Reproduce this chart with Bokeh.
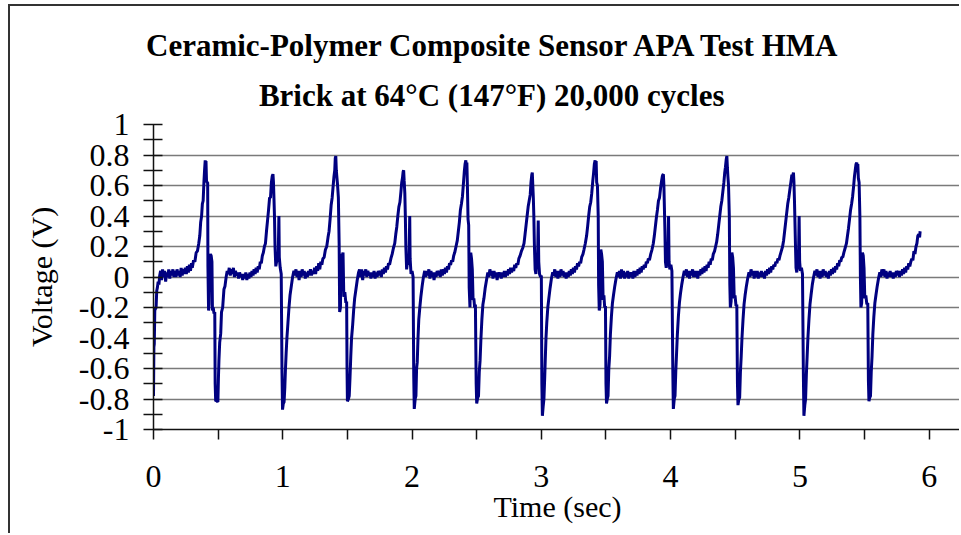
from bokeh.plotting import figure
from bokeh.models import (FixedTicker, CustomJSTickFormatter, Title, Range1d)
from bokeh.embed import file_html
from bokeh.resources import INLINE

# ---------------- data ----------------
title_line1 = "Ceramic-Polymer Composite Sensor APA Test HMA"
title_line2 = "Brick at 64\u00b0C (147\u00b0F) 20,000 cycles"
x_label = "Time (sec)"
y_label = "Voltage (V)"

x_ticks = [0, 1, 2, 3, 4, 5, 6]
x_minor_ticks = [0.5, 1.5, 2.5, 3.5, 4.5, 5.5]
y_ticks = [-1, -0.8, -0.6, -0.4, -0.2, 0, 0.2, 0.4, 0.6, 0.8, 1]
y_minor_ticks = [-0.9, -0.7, -0.5, -0.3, -0.1, 0.1, 0.3, 0.5, 0.7, 0.9]

seg_start = [(0.000, -0.78), (0.003, -0.46), (0.006, -0.44), (0.010, -0.22), (0.014, -0.21),
             (0.020, -0.20), (0.025, -0.09), (0.030, -0.07), (0.036, -0.03), (0.042, -0.05),
             (0.048, 0.01)]

cycle_01 = [(0.055, 0.04), (0.062, -0.02), (0.070, 0.05), (0.078, 0.0), (0.086, 0.04), (0.094, -0.03),
            (0.102, 0.03), (0.110, 0.0), (0.118, 0.05), (0.126, -0.01), (0.134, 0.04), (0.142, 0.01),
            (0.150, 0.05), (0.158, 0.0), (0.166, 0.04), (0.174, 0.0), (0.182, 0.05), (0.190, 0.01),
            (0.198, 0.04), (0.206, 0.0), (0.214, 0.06), (0.222, 0.01), (0.230, 0.05), (0.238, 0.02),
            (0.246, 0.06), (0.254, 0.02), (0.262, 0.07), (0.270, 0.03), (0.278, 0.08), (0.286, 0.04),
            (0.294, 0.09), (0.300, 0.06), (0.310, 0.11), (0.320, 0.10), (0.330, 0.16), (0.340, 0.17),
            (0.350, 0.22), (0.358, 0.27), (0.365, 0.36), (0.372, 0.40), (0.378, 0.48), (0.384, 0.50),
            (0.390, 0.62), (0.395, 0.70), (0.400, 0.765), (0.403, 0.72), (0.406, 0.76), (0.410, 0.63),
            (0.416, 0.62), (0.419, 0.62), (0.421, 0.07), (0.426, -0.22), (0.430, -0.18), (0.434, 0.12),
            (0.440, 0.15), (0.446, 0.14), (0.452, 0.10), (0.456, -0.22), (0.462, -0.20), (0.468, -0.24),
            (0.474, -0.23), (0.477, -0.70), (0.481, -0.815), (0.490, -0.81), (0.498, -0.82),
            (0.502, -0.67), (0.506, -0.55), (0.512, -0.43), (0.520, -0.37), (0.526, -0.23),
            (0.535, -0.20), (0.545, -0.08), (0.553, -0.06), (0.562, 0.0), (0.570, 0.04)]

cycle_02 = [(0.578, 0.02), (0.586, 0.06), (0.594, 0.01), (0.602, 0.05), (0.610, 0.02), (0.618, 0.06),
            (0.626, 0.0), (0.634, 0.04), (0.642, 0.01), (0.650, 0.03), (0.658, -0.01), (0.666, 0.03),
            (0.674, 0.0), (0.682, 0.02), (0.690, -0.02), (0.698, 0.02), (0.706, -0.01), (0.714, 0.03),
            (0.722, -0.02), (0.730, 0.02), (0.738, -0.01), (0.746, 0.03), (0.754, 0.0), (0.762, 0.04),
            (0.770, 0.01), (0.778, 0.05), (0.786, 0.02), (0.794, 0.06), (0.802, 0.03), (0.810, 0.07),
            (0.818, 0.05), (0.826, 0.10), (0.834, 0.09), (0.842, 0.14), (0.850, 0.16), (0.858, 0.20),
            (0.866, 0.22), (0.874, 0.30), (0.882, 0.37), (0.890, 0.44), (0.898, 0.52), (0.905, 0.52),
            (0.912, 0.62), (0.918, 0.66), (0.924, 0.674), (0.928, 0.62), (0.932, 0.51), (0.936, 0.39),
            (0.940, 0.20), (0.946, 0.07), (0.952, 0.10), (0.958, 0.15), (0.964, 0.10), (0.970, 0.40),
            (0.973, 0.13), (0.980, 0.06), (0.988, 0.02), (0.994, -0.63), (0.998, -0.87), (1.004, -0.83),
            (1.010, -0.82), (1.016, -0.72), (1.020, -0.62), (1.026, -0.50), (1.032, -0.40),
            (1.040, -0.30), (1.048, -0.20), (1.056, -0.12), (1.066, -0.06), (1.076, 0.0), (1.086, 0.04)]

cycle_03 = [(1.094, 0.01), (1.102, 0.05), (1.110, 0.0), (1.118, 0.04), (1.126, -0.02), (1.134, 0.04),
            (1.142, 0.0), (1.150, 0.05), (1.158, 0.01), (1.166, 0.04), (1.174, -0.01), (1.182, 0.03),
            (1.190, 0.0), (1.198, 0.04), (1.206, 0.01), (1.214, 0.05), (1.222, 0.01), (1.230, 0.04),
            (1.238, 0.02), (1.246, 0.06), (1.254, 0.02), (1.262, 0.07), (1.270, 0.04), (1.278, 0.09),
            (1.286, 0.05), (1.294, 0.10), (1.302, 0.08), (1.310, 0.12), (1.320, 0.13), (1.330, 0.18),
            (1.340, 0.20), (1.350, 0.26), (1.358, 0.30), (1.366, 0.38), (1.374, 0.47), (1.382, 0.52),
            (1.390, 0.60), (1.396, 0.66), (1.402, 0.70), (1.406, 0.78), (1.410, 0.793), (1.414, 0.70),
            (1.418, 0.66), (1.424, 0.60), (1.430, 0.52), (1.436, 0.22), (1.440, -0.23), (1.446, -0.20),
            (1.452, 0.15), (1.460, 0.14), (1.466, 0.16), (1.472, -0.13), (1.480, -0.10), (1.488, -0.17),
            (1.494, -0.16), (1.497, -0.60), (1.500, -0.815), (1.508, -0.80), (1.514, -0.78),
            (1.520, -0.66), (1.526, -0.52), (1.532, -0.40), (1.540, -0.32), (1.548, -0.22),
            (1.556, -0.14), (1.566, -0.08), (1.576, -0.02), (1.586, 0.03)]

cycle_04 = [(1.594, 0.05), (1.602, 0.0), (1.610, 0.05), (1.618, -0.02), (1.626, 0.04), (1.634, 0.01),
            (1.642, 0.05), (1.650, 0.0), (1.658, 0.04), (1.666, 0.01), (1.674, 0.03), (1.682, -0.01),
            (1.690, 0.03), (1.698, 0.0), (1.706, 0.04), (1.714, -0.01), (1.722, 0.03), (1.730, 0.0),
            (1.738, 0.04), (1.746, 0.01), (1.754, 0.04), (1.762, 0.0), (1.770, 0.05), (1.778, 0.02),
            (1.786, 0.06), (1.794, 0.03), (1.802, 0.07), (1.810, 0.05), (1.818, 0.09), (1.826, 0.08),
            (1.836, 0.12), (1.846, 0.15), (1.856, 0.19), (1.866, 0.22), (1.874, 0.28), (1.882, 0.33),
            (1.890, 0.40), (1.898, 0.46), (1.906, 0.49), (1.914, 0.56), (1.920, 0.62), (1.926, 0.65),
            (1.931, 0.69), (1.935, 0.70), (1.939, 0.63), (1.944, 0.55), (1.948, 0.40), (1.952, 0.20),
            (1.958, 0.05), (1.964, 0.10), (1.970, 0.15), (1.976, 0.08), (1.982, 0.40), (1.985, 0.12),
            (1.992, 0.02), (2.000, 0.04), (2.008, 0.0), (2.013, -0.65), (2.017, -0.865), (2.024, -0.80),
            (2.030, -0.78), (2.035, -0.60), (2.040, -0.56), (2.046, -0.40), (2.052, -0.28),
            (2.060, -0.20), (2.068, -0.13), (2.078, -0.06), (2.088, 0.0), (2.098, 0.04)]

cycle_05 = [(2.106, 0.0), (2.114, 0.04), (2.122, 0.01), (2.130, 0.05), (2.138, -0.01), (2.146, 0.04),
            (2.154, 0.0), (2.162, 0.03), (2.170, -0.02), (2.178, 0.03), (2.186, 0.0), (2.194, 0.04),
            (2.202, 0.01), (2.210, 0.04), (2.218, 0.0), (2.226, 0.05), (2.234, 0.01), (2.242, 0.05),
            (2.250, 0.02), (2.258, 0.06), (2.266, 0.03), (2.274, 0.07), (2.282, 0.05), (2.290, 0.09),
            (2.298, 0.08), (2.306, 0.11), (2.314, 0.10), (2.322, 0.14), (2.330, 0.16), (2.340, 0.20),
            (2.350, 0.24), (2.358, 0.30), (2.366, 0.36), (2.374, 0.44), (2.382, 0.48), (2.390, 0.53),
            (2.398, 0.62), (2.404, 0.69), (2.410, 0.74), (2.416, 0.765), (2.420, 0.70), (2.424, 0.75),
            (2.428, 0.60), (2.433, 0.38), (2.438, 0.34), (2.442, -0.07), (2.448, -0.20), (2.454, 0.16),
            (2.460, 0.12), (2.466, 0.05), (2.472, -0.15), (2.478, -0.14), (2.484, -0.20), (2.490, -0.18),
            (2.496, -0.70), (2.500, -0.83), (2.508, -0.79), (2.514, -0.78), (2.520, -0.62),
            (2.526, -0.55), (2.532, -0.42), (2.540, -0.28), (2.548, -0.18), (2.556, -0.14),
            (2.566, -0.07), (2.576, -0.02), (2.586, 0.03)]

cycle_06 = [(2.594, 0.0), (2.602, 0.05), (2.610, 0.01), (2.618, 0.04), (2.626, -0.01), (2.634, 0.04),
            (2.642, 0.0), (2.650, 0.03), (2.658, -0.02), (2.666, 0.03), (2.674, 0.0), (2.682, 0.03),
            (2.690, -0.01), (2.698, 0.03), (2.706, 0.0), (2.714, 0.04), (2.722, 0.0), (2.730, 0.04),
            (2.738, 0.01), (2.746, 0.05), (2.754, 0.02), (2.762, 0.06), (2.770, 0.03), (2.778, 0.06),
            (2.786, 0.04), (2.794, 0.08), (2.802, 0.06), (2.810, 0.09), (2.818, 0.08), (2.826, 0.12),
            (2.836, 0.14), (2.846, 0.17), (2.856, 0.19), (2.866, 0.22), (2.874, 0.28), (2.882, 0.34),
            (2.890, 0.40), (2.898, 0.46), (2.906, 0.50), (2.914, 0.54), (2.920, 0.62), (2.926, 0.67),
            (2.930, 0.685), (2.934, 0.60), (2.938, 0.52), (2.942, 0.40), (2.946, 0.22), (2.952, 0.05),
            (2.958, 0.02), (2.964, 0.12), (2.970, 0.08), (2.976, 0.37), (2.980, 0.10), (2.986, 0.02),
            (2.994, 0.0), (3.000, 0.01), (3.004, -0.70), (3.008, -0.91), (3.014, -0.85), (3.020, -0.80),
            (3.026, -0.66), (3.030, -0.55), (3.036, -0.40), (3.042, -0.30), (3.050, -0.20),
            (3.058, -0.14), (3.068, -0.07), (3.078, -0.01), (3.088, 0.03)]

cycle_07 = [(3.096, 0.01), (3.104, 0.05), (3.112, 0.0), (3.120, 0.04), (3.128, -0.01), (3.136, 0.04),
            (3.144, 0.0), (3.152, 0.05), (3.160, 0.01), (3.168, 0.04), (3.176, 0.0), (3.184, 0.03),
            (3.192, -0.01), (3.200, 0.03), (3.208, 0.0), (3.216, 0.04), (3.224, 0.01), (3.232, 0.05),
            (3.240, 0.02), (3.248, 0.06), (3.256, 0.03), (3.264, 0.07), (3.272, 0.05), (3.280, 0.09),
            (3.288, 0.07), (3.296, 0.10), (3.304, 0.09), (3.312, 0.13), (3.322, 0.15), (3.330, 0.18),
            (3.340, 0.22), (3.350, 0.27), (3.358, 0.33), (3.366, 0.40), (3.374, 0.46), (3.382, 0.49),
            (3.390, 0.55), (3.398, 0.63), (3.404, 0.68), (3.410, 0.74), (3.416, 0.765), (3.420, 0.72),
            (3.424, 0.76), (3.428, 0.62), (3.434, 0.60), (3.440, 0.40), (3.443, -0.05), (3.448, -0.22),
            (3.454, -0.18), (3.460, 0.18), (3.466, 0.15), (3.472, 0.10), (3.478, -0.15), (3.484, -0.12),
            (3.490, -0.20), (3.496, -0.19), (3.500, -0.70), (3.504, -0.83), (3.510, -0.80),
            (3.516, -0.78), (3.522, -0.60), (3.528, -0.52), (3.534, -0.38), (3.542, -0.26),
            (3.550, -0.17), (3.558, -0.12), (3.568, -0.06), (3.578, -0.01), (3.588, 0.03)]

cycle_08 = [(3.596, 0.0), (3.604, 0.04), (3.612, -0.01), (3.620, 0.05), (3.628, 0.0), (3.636, 0.04),
            (3.644, -0.01), (3.652, 0.03), (3.660, 0.0), (3.668, 0.04), (3.676, -0.01), (3.684, 0.03),
            (3.692, 0.0), (3.700, 0.03), (3.708, -0.01), (3.716, 0.04), (3.724, 0.0), (3.732, 0.04),
            (3.740, 0.01), (3.748, 0.05), (3.756, 0.02), (3.764, 0.06), (3.772, 0.03), (3.780, 0.07),
            (3.788, 0.05), (3.796, 0.08), (3.804, 0.06), (3.812, 0.10), (3.820, 0.09), (3.828, 0.12),
            (3.836, 0.11), (3.846, 0.15), (3.856, 0.18), (3.866, 0.22), (3.874, 0.27), (3.882, 0.33),
            (3.890, 0.39), (3.898, 0.44), (3.906, 0.50), (3.914, 0.52), (3.922, 0.58), (3.930, 0.63),
            (3.936, 0.66), (3.940, 0.67), (3.944, 0.674), (3.948, 0.60), (3.952, 0.45), (3.956, 0.30),
            (3.960, 0.10), (3.966, 0.06), (3.972, 0.12), (3.978, 0.07), (3.984, 0.40), (3.988, 0.10),
            (3.994, 0.05), (4.002, 0.08), (4.010, 0.04), (4.017, -0.62), (4.021, -0.865), (4.028, -0.80),
            (4.034, -0.78), (4.040, -0.62), (4.046, -0.50), (4.052, -0.38), (4.060, -0.26),
            (4.068, -0.17), (4.076, -0.11), (4.086, -0.05), (4.096, 0.0), (4.106, 0.04)]

cycle_09 = [(4.114, 0.01), (4.122, 0.05), (4.130, 0.0), (4.138, 0.04), (4.146, -0.01), (4.154, 0.04),
            (4.162, 0.01), (4.170, 0.05), (4.178, 0.0), (4.186, 0.04), (4.194, 0.0), (4.202, 0.04),
            (4.210, -0.01), (4.218, 0.04), (4.226, 0.01), (4.234, 0.05), (4.242, 0.02), (4.250, 0.06),
            (4.258, 0.03), (4.266, 0.07), (4.274, 0.04), (4.282, 0.08), (4.290, 0.06), (4.298, 0.10),
            (4.306, 0.08), (4.314, 0.12), (4.322, 0.11), (4.330, 0.15), (4.340, 0.17), (4.348, 0.20),
            (4.356, 0.23), (4.364, 0.28), (4.372, 0.34), (4.380, 0.40), (4.388, 0.46), (4.396, 0.50),
            (4.404, 0.56), (4.412, 0.62), (4.418, 0.68), (4.424, 0.72), (4.430, 0.77), (4.435, 0.793),
            (4.439, 0.72), (4.443, 0.66), (4.448, 0.60), (4.454, 0.40), (4.458, -0.05), (4.462, -0.20),
            (4.468, -0.16), (4.474, 0.16), (4.480, 0.13), (4.486, 0.06), (4.492, -0.14), (4.498, -0.12),
            (4.506, -0.19), (4.512, -0.18), (4.517, -0.70), (4.521, -0.84), (4.528, -0.80),
            (4.534, -0.79), (4.540, -0.62), (4.546, -0.52), (4.552, -0.40), (4.560, -0.28),
            (4.568, -0.18), (4.576, -0.12), (4.586, -0.06), (4.596, -0.01), (4.606, 0.03)]

cycle_10 = [(4.614, 0.0), (4.622, 0.05), (4.630, 0.01), (4.638, 0.04), (4.646, -0.01), (4.654, 0.04),
            (4.662, 0.0), (4.670, 0.04), (4.678, -0.01), (4.686, 0.03), (4.694, 0.0), (4.702, 0.04),
            (4.710, 0.0), (4.718, 0.03), (4.726, -0.01), (4.734, 0.04), (4.742, 0.01), (4.750, 0.05),
            (4.758, 0.02), (4.766, 0.06), (4.774, 0.03), (4.782, 0.07), (4.790, 0.05), (4.798, 0.08),
            (4.806, 0.07), (4.814, 0.10), (4.822, 0.09), (4.830, 0.12), (4.838, 0.11), (4.846, 0.14),
            (4.856, 0.17), (4.866, 0.20), (4.874, 0.24), (4.882, 0.30), (4.890, 0.36), (4.898, 0.42),
            (4.906, 0.48), (4.914, 0.52), (4.922, 0.57), (4.930, 0.62), (4.938, 0.67), (4.944, 0.66),
            (4.950, 0.685), (4.954, 0.62), (4.958, 0.50), (4.962, 0.35), (4.966, 0.20), (4.970, 0.06),
            (4.976, 0.03), (4.982, 0.12), (4.988, 0.05), (4.994, 0.40), (4.998, 0.10), (5.004, 0.04),
            (5.012, 0.06), (5.020, 0.02), (5.027, -0.65), (5.031, -0.91), (5.038, -0.84), (5.044, -0.80),
            (5.050, -0.64), (5.056, -0.52), (5.062, -0.40), (5.070, -0.28), (5.078, -0.18),
            (5.086, -0.12), (5.096, -0.05), (5.106, 0.0), (5.116, 0.04)]

cycle_11 = [(5.124, 0.01), (5.132, 0.05), (5.140, 0.0), (5.148, 0.04), (5.156, -0.01), (5.164, 0.04),
            (5.172, 0.0), (5.180, 0.05), (5.188, 0.01), (5.196, 0.04), (5.204, 0.0), (5.212, 0.03),
            (5.220, -0.01), (5.228, 0.04), (5.236, 0.01), (5.244, 0.05), (5.252, 0.02), (5.260, 0.06),
            (5.268, 0.03), (5.276, 0.07), (5.284, 0.05), (5.292, 0.09), (5.300, 0.07), (5.308, 0.11),
            (5.316, 0.10), (5.324, 0.13), (5.332, 0.13), (5.340, 0.16), (5.350, 0.19), (5.360, 0.22),
            (5.368, 0.27), (5.376, 0.32), (5.384, 0.38), (5.392, 0.44), (5.400, 0.48), (5.408, 0.53),
            (5.416, 0.60), (5.422, 0.66), (5.428, 0.70), (5.434, 0.74), (5.440, 0.75), (5.444, 0.72),
            (5.448, 0.74), (5.452, 0.65), (5.458, 0.62), (5.464, 0.40), (5.468, 0.0), (5.472, -0.20),
            (5.478, -0.17), (5.484, 0.16), (5.490, 0.14), (5.496, 0.06), (5.502, -0.14), (5.510, -0.12),
            (5.518, -0.18), (5.525, -0.17), (5.530, -0.68), (5.534, -0.815), (5.540, -0.79),
            (5.546, -0.78), (5.552, -0.62), (5.558, -0.52), (5.564, -0.38), (5.572, -0.26),
            (5.580, -0.17), (5.588, -0.12), (5.598, -0.06), (5.608, -0.01), (5.618, 0.03)]

seg_end = [(5.626, 0.0), (5.634, 0.05), (5.642, 0.01), (5.650, 0.05), (5.658, 0.0), (5.666, 0.04),
           (5.674, -0.01), (5.682, 0.03), (5.690, 0.0), (5.698, 0.04), (5.706, 0.0), (5.714, 0.03),
           (5.722, -0.01), (5.730, 0.03), (5.738, 0.0), (5.746, 0.04), (5.754, 0.01), (5.762, 0.04),
           (5.770, 0.0), (5.778, 0.04), (5.786, 0.01), (5.794, 0.05), (5.802, 0.02), (5.810, 0.06),
           (5.818, 0.03), (5.826, 0.07), (5.834, 0.05), (5.842, 0.09), (5.850, 0.07), (5.858, 0.10),
           (5.866, 0.12), (5.874, 0.11), (5.882, 0.17), (5.890, 0.15), (5.898, 0.20), (5.905, 0.22),
           (5.912, 0.27), (5.920, 0.28), (5.926, 0.26), (5.930, 0.30)]

segments = [seg_start, cycle_01, cycle_02, cycle_03, cycle_04, cycle_05, cycle_06,
            cycle_07, cycle_08, cycle_09, cycle_10, cycle_11, seg_end]
time_s = [pt[0] for seg in segments for pt in seg]
volt_v = [pt[1] for seg in segments for pt in seg]

# ---------------- figure ----------------
FONT = "Liberation Serif"

p = figure(width=951, height=529, output_backend="svg", toolbar_location=None,
           x_range=Range1d(0, 6.25), y_range=Range1d(-1, 1),
           min_border_left=143, min_border_right=0, min_border_top=118, min_border_bottom=106)
p.styles = {"margin-left": "8px", "margin-top": "4px",
            "border-left": "2px solid #333333", "border-top": "2px solid #333333"}
p.background_fill_color = "white"
p.border_fill_color = "white"
p.outline_line_color = None

p.line(time_s, volt_v, line_color="#000080", line_width=3)

# grid
p.xgrid.visible = False
p.ygrid.ticker = FixedTicker(ticks=y_ticks)
p.ygrid.grid_line_color = "#7a7a7a"
p.ygrid.grid_line_width = 1.6

# x axis
xa = p.xaxis[0]
xa.ticker = FixedTicker(ticks=x_ticks, minor_ticks=x_minor_ticks)
xa.axis_line_color = "#111111"
xa.axis_line_width = 1.5
xa.major_tick_in = 0
xa.major_tick_out = 10
xa.minor_tick_in = 0
xa.minor_tick_out = 10
xa.major_tick_line_color = "#111111"
xa.minor_tick_line_color = "#111111"
xa.major_tick_line_width = 1.5
xa.minor_tick_line_width = 1.5
xa.major_label_text_font = FONT
xa.major_label_text_font_size = "32px"
xa.major_label_text_color = "black"
xa.major_label_standoff = 26
xa.axis_label = x_label
xa.axis_label_text_font = FONT
xa.axis_label_text_font_size = "30px"
xa.axis_label_text_font_style = "normal"
xa.axis_label_text_color = "black"
xa.axis_label_standoff = 0

# y axis
ya = p.yaxis[0]
ya.ticker = FixedTicker(ticks=y_ticks, minor_ticks=y_minor_ticks)
ya.formatter = CustomJSTickFormatter(code="var s = tick.toFixed(1); if (s.endsWith('.0')) { s = s.slice(0, -2); } if (s == '-0') { s = '0'; } return s;")
ya.axis_line_color = "#111111"
ya.axis_line_width = 1.5
ya.major_tick_in = 9
ya.major_tick_out = 10
ya.minor_tick_in = 9
ya.minor_tick_out = 10
ya.major_tick_line_color = "#111111"
ya.minor_tick_line_color = "#111111"
ya.major_tick_line_width = 1.5
ya.minor_tick_line_width = 1.5
ya.major_label_text_font = FONT
ya.major_label_text_font_size = "32px"
ya.major_label_text_color = "black"
ya.major_label_standoff = 14
ya.axis_label = y_label
ya.axis_label_text_font = FONT
ya.axis_label_text_font_size = "30px"
ya.axis_label_text_font_style = "normal"
ya.axis_label_text_color = "black"
ya.axis_label_standoff = 18

# title: two lines, right-anchored so that their centres sit left of the frame centre
p.add_layout(Title(text=title_line2, align="right", offset=237, text_font=FONT,
                   text_font_size="31px", text_font_style="bold", text_color="black",
                   standoff=24), "above")
p.add_layout(Title(text=title_line1, align="right", offset=119, text_font=FONT,
                   text_font_size="31px", text_font_style="bold", text_color="black",
                   standoff=2), "above")

open("out.html", "w").write(file_html(p, INLINE))
